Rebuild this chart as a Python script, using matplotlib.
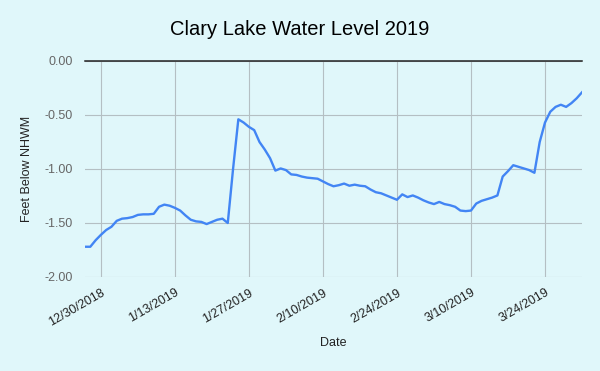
import matplotlib
matplotlib.use("Agg")
import matplotlib.pyplot as plt
import numpy as np
import pandas as pd

plt.rcParams['font.family'] = ['Liberation Sans', 'DejaVu Sans']

start_date = "2018-12-27"
end_date = "2019-03-31"

# feet below NHWM, one reading per day from 12/27/2018 to 3/31/2019
levels = [
    -1.72, -1.72, -1.66, -1.61, -1.565,           # 12/27 - 12/31
    -1.535, -1.48, -1.46, -1.455, -1.445, -1.425, -1.42, -1.42, -1.415, -1.35,
    -1.33, -1.34, -1.36, -1.385, -1.43, -1.47, -1.485, -1.49, -1.51, -1.49,
    -1.47, -1.46, -1.50, -1.00, -0.54, -0.57, -0.61, -0.64, -0.75, -0.82,
    -0.90,                                        # 1/1 - 1/31
    -1.015, -0.995, -1.01, -1.05, -1.055, -1.07, -1.08, -1.085, -1.09, -1.115,
    -1.14, -1.16, -1.15, -1.135, -1.155, -1.145, -1.155, -1.16, -1.19, -1.215,
    -1.225, -1.245, -1.265, -1.285, -1.235, -1.26, -1.245, -1.265,  # 2/1 - 2/28
    -1.29, -1.31, -1.325, -1.305, -1.325, -1.335, -1.35, -1.385, -1.39, -1.385,
    -1.32, -1.295, -1.28, -1.265, -1.245, -1.07, -1.02, -0.965, -0.98, -0.995,
    -1.01, -1.035, -0.75, -0.57, -0.47, -0.425, -0.405, -0.425, -0.39, -0.345,
    -0.29,                                        # 3/1 - 3/31
]
tick_dates = ["2018-12-30", "2019-01-13", "2019-01-27", "2019-02-10",
              "2019-02-24", "2019-03-10", "2019-03-24"]
y_ticks = [0.0, -0.5, -1.0, -1.5, -2.0]

dates = pd.date_range(start_date, end_date, freq="D")

bg = "#e0f7fa"
fig = plt.figure(figsize=(6, 3.71), dpi=100, facecolor=bg)
ax = fig.add_axes([0.1417, 0.2534, 0.8283, 0.5822], facecolor=bg)

ax.plot(dates, levels, color="#4285f4", linewidth=1.7, solid_joinstyle="round")

ax.set_xlim(pd.Timestamp(start_date), pd.Timestamp(end_date))
ax.set_ylim(-2.0, 0.0)
ax.set_yticks(y_ticks)
ax.yaxis.set_major_formatter(matplotlib.ticker.FormatStrFormatter("%.2f"))
ax.set_xticks(pd.to_datetime(tick_dates))
ax.set_xticklabels([f"{d.month}/{d.day}/{d.year}" for d in pd.to_datetime(tick_dates)],
                   rotation=30, ha="right", rotation_mode="anchor")

ax.grid(True, color="#b4bfc3", linewidth=0.8)
ax.set_axisbelow(True)
ax.axhline(0.0, color="#222222", linewidth=1.1, clip_on=False)
for s in ax.spines.values():
    s.set_visible(False)
ax.tick_params(axis="both", length=0, labelsize=9)
ax.tick_params(axis="y", labelcolor="#666666", pad=9)
ax.tick_params(axis="x", labelcolor="#222222", pad=7)

ax.set_xlabel("Date", fontsize=9, color="#222222", labelpad=6)
ax.set_ylabel("Feet Below NHWM", fontsize=9, color="#222222", labelpad=8)
fig.suptitle("Clary Lake Water Level 2019", fontsize=14.5, y=0.945, color="#000000")

fig.savefig("out.png", dpi=100, facecolor=bg)
